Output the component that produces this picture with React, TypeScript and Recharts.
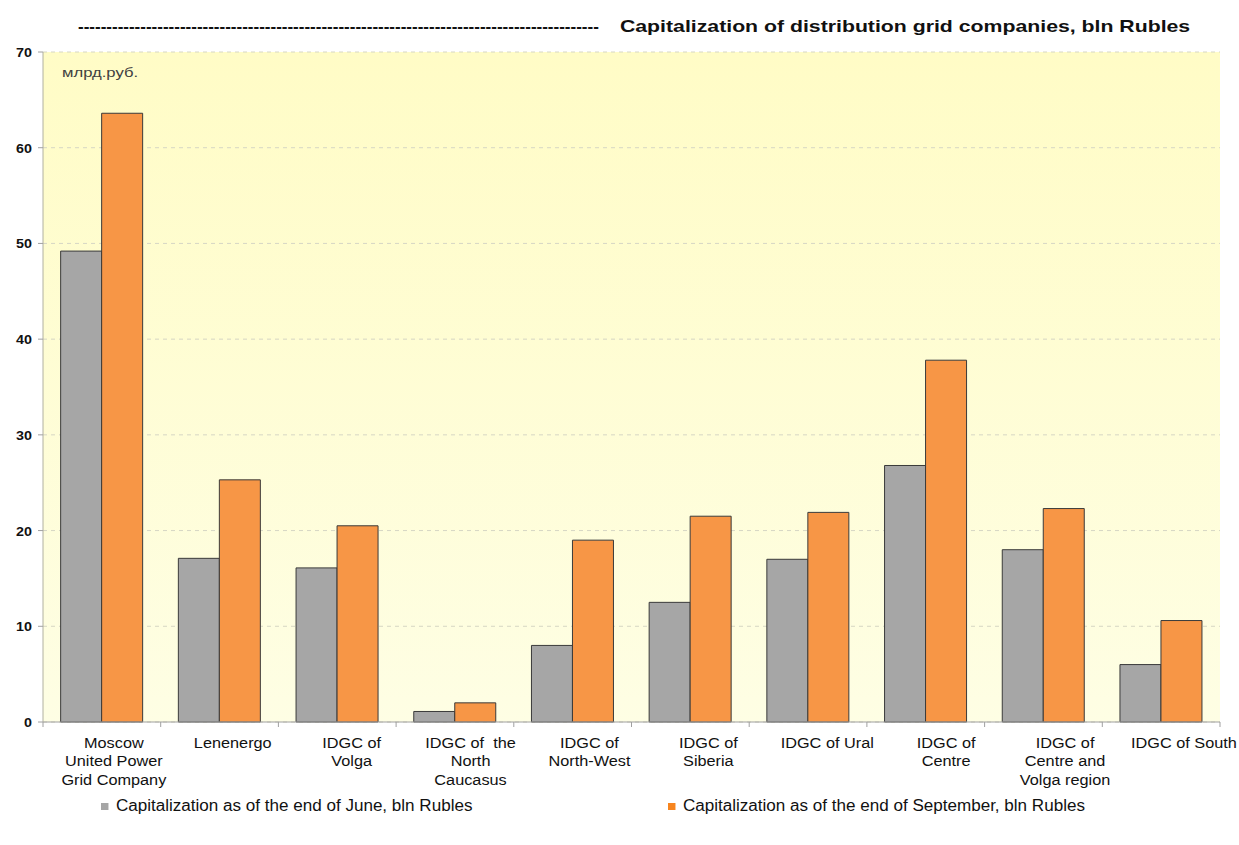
import { BarChart, Bar, XAxis, YAxis, CartesianGrid } from 'recharts';

const companies = [
  'Moscow|United Power|Grid Company',
  'Lenenergo',
  'IDGC of|Volga',
  'IDGC of  the|North|Caucasus',
  'IDGC of|North-West',
  'IDGC of|Siberia',
  'IDGC of Ural',
  'IDGC of|Centre',
  'IDGC of|Centre and|Volga region',
  'IDGC of South',
];
const juneValues = [49.2, 17.1, 16.1, 1.1, 8.0, 12.5, 17.0, 26.8, 18.0, 6.0];
const septemberValues = [63.6, 25.3, 20.5, 2.0, 19.0, 21.5, 21.9, 37.8, 22.3, 10.6];
const yTicks = [0, 10, 20, 30, 40, 50, 60, 70];

const juneName = 'Capitalization as of the end of June, bln Rubles';
const septName = 'Capitalization as of the end of September, bln Rubles';

const chartData = companies.map((name, i) => ({
  name,
  june: juneValues[i],
  sept: septemberValues[i],
}));

const FONT = 'Arial, "Liberation Sans", sans-serif';

function CategoryTick(props: any) {
  const { x, y, payload, index } = props;
  const half = payload && payload.offset ? payload.offset : 58.85;
  const lines = String(payload.value).split('|');
  // labels in the original drift a little right of the bar groups
  const cx = x + 12 + index * 1.2;
  return (
    <g>
      <line x1={x - half} x2={x - half} y1={y - 8} y2={y - 3} stroke="#a0a0a0" />
      {index === companies.length - 1 && (
        <line x1={x + half} x2={x + half} y1={y - 8} y2={y - 3} stroke="#a0a0a0" />
      )}
      <text
        transform={`translate(${cx},${y + 18}) scale(1.086,1)`}
        x={0}
        y={0}
        textAnchor="middle"
        fontSize={15}
        fill="#111"
        fontFamily={FONT}
        style={{ whiteSpace: 'pre' }}
      >
        {lines.map((l, i) => (
          <tspan key={i} x={0} dy={i === 0 ? 0 : 18.5}>
            {l}
          </tspan>
        ))}
      </text>
    </g>
  );
}

function ValueTick(props: any) {
  const { x, y, payload } = props;
  return (
    <text
      transform={`translate(${x},${y + 5}) scale(1.1,1)`}
      textAnchor="end"
      fontSize={13}
      fontWeight="bold"
      fill="#111"
      fontFamily={FONT}
    >
      {payload.value}
    </text>
  );
}

export default function App() {
  return (
    <div style={{ position: 'absolute', left: 0, top: 0, width: 1239, height: 845, background: '#fff', fontFamily: FONT }}>
      <div style={{ position: 'absolute', left: 78, top: 17, fontSize: 17, fontWeight: 'bold', color: '#111', whiteSpace: 'nowrap' }}>
        {'-'.repeat(92)}
      </div>
      <div
        style={{
          position: 'absolute',
          right: 49,
          top: 17,
          fontSize: 17,
          fontWeight: 'bold',
          color: '#111',
          whiteSpace: 'nowrap',
          transform: 'scaleX(1.25)',
          transformOrigin: 'right center',
        }}
      >
        Capitalization of distribution grid companies, bln Rubles
      </div>
      <BarChart
        width={1239}
        height={845}
        data={chartData}
        margin={{ top: 52, right: 19, left: 10, bottom: 53 }}
        barCategoryGap="15%"
        barGap={0}
      >
        <defs>
          <linearGradient id="plotBg" x1="0" y1="0" x2="0" y2="1">
            <stop offset="0%" stopColor="#fffcc6" />
            <stop offset="100%" stopColor="#fefee4" />
          </linearGradient>
        </defs>
        <CartesianGrid vertical={false} stroke="#d6d6c4" strokeDasharray="4 4" fill="url(#plotBg)" />
        <XAxis
          dataKey="name"
          interval={0}
          height={70}
          axisLine={{ stroke: '#a0a0a0' }}
          tickLine={false}
          tick={<CategoryTick />}
        />
        <YAxis
          domain={[0, 70]}
          ticks={yTicks}
          width={33}
          interval={0}
          tickSize={5}
          tickMargin={6}
          axisLine={{ stroke: '#b0b0a0' }}
          tickLine={{ stroke: '#a0a0a0' }}
          tick={<ValueTick />}
        />
        <Bar dataKey="june" name={juneName} fill="#a6a6a6" stroke="#3a3a3a" strokeWidth={1} isAnimationActive={false} />
        <Bar dataKey="sept" name={septName} fill="#f79646" stroke="#3a3a3a" strokeWidth={1} isAnimationActive={false} />
      </BarChart>
      <div
        style={{
          position: 'absolute',
          left: 62,
          top: 65,
          fontSize: 13,
          color: '#404040',
          transform: 'scaleX(1.28)',
          transformOrigin: 'left center',
        }}
      >
        млрд.руб.
      </div>
      <div
        style={{
          position: 'absolute',
          left: 101,
          top: 797,
          display: 'flex',
          alignItems: 'center',
          fontSize: 16,
          color: '#111',
          transform: 'scaleX(1.066)',
          transformOrigin: 'left center',
        }}
      >
        <span style={{ width: 7, height: 7, background: '#a6a6a6', marginRight: 7, display: 'inline-block' }} />
        {juneName}
      </div>
      <div
        style={{
          position: 'absolute',
          left: 668,
          top: 797,
          display: 'flex',
          alignItems: 'center',
          fontSize: 16,
          color: '#111',
          transform: 'scaleX(1.066)',
          transformOrigin: 'left center',
        }}
      >
        <span style={{ width: 7, height: 7, background: '#f7851e', marginRight: 7, display: 'inline-block' }} />
        {septName}
      </div>
    </div>
  );
}
